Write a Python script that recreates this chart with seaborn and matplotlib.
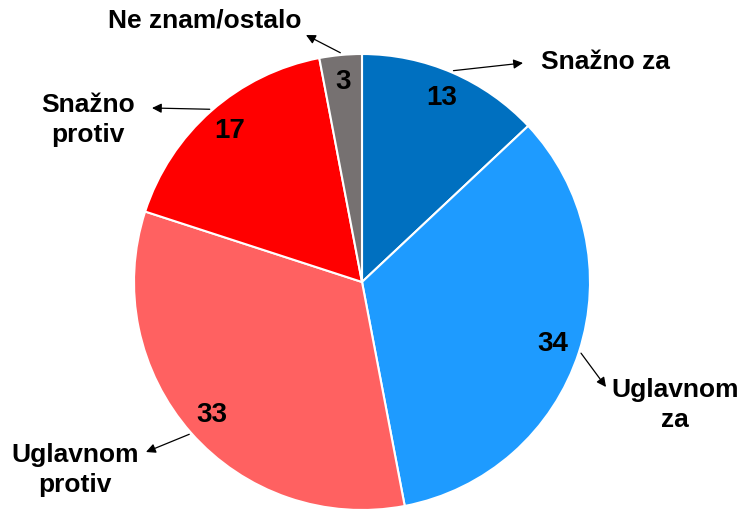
import numpy as np
import matplotlib
matplotlib.use('Agg')
import matplotlib.pyplot as plt
import seaborn as sns

# Podaci
categories = ['Snažno za', 'Uglavnom za', 'Uglavnom protiv', 'Snažno protiv', 'Ne znam/ostalo']
values = [13, 34, 33, 17, 3]
colors = ['#0070C0', '#1E9BFF', '#FF6161', '#FF0000', '#767171']
label_text = ['Snažno za', 'Uglavnom\nza', 'Uglavnom\nprotiv', 'Snažno\nprotiv', 'Ne znam/ostalo']

sns.set_style('white')
plt.rcParams['font.family'] = ['Liberation Sans', 'DejaVu Sans']

W, H = 741, 509
cx, cy, R = 362, 282, 228  # centar i radijus u pikselima

fig = plt.figure(figsize=(W / 100, H / 100), dpi=100)
ax = fig.add_axes([0, 0, 1, 1])

wedges, texts, autotexts = ax.pie(
    values, colors=colors, startangle=90, counterclock=False,
    autopct=lambda p: f'{p:.0f}', pctdistance=0.88,
    wedgeprops=dict(edgecolor='white', linewidth=1.5),
    textprops=dict(fontsize=20, fontweight='bold', color='black'),
)

ax.set_xlim(-cx / R, (W - cx) / R)
ax.set_ylim(-(H - cy) / R, cy / R)
ax.set_aspect('equal')
ax.axis('off')

# pozicije natpisa (pikseli) i vrhova strelica
text_px = [(605, 62), (675, 405), (75, 470), (88, 120), (205, 20)]
tip_px = [(523, 63), (606, 387), (146, 452), (152, 108), (306, 35)]


def to_data(p):
    return ((p[0] - cx) / R, (cy - p[1]) / R)


for w, lab, tp, ap in zip(wedges, label_text, text_px, tip_px):
    mid = np.deg2rad((w.theta1 + w.theta2) / 2)
    start = (1.01 * np.cos(mid), 1.01 * np.sin(mid))
    ax.annotate('', xy=to_data(ap), xytext=start,
                arrowprops=dict(arrowstyle='-|>', color='black', lw=0.9,
                                mutation_scale=14, shrinkA=0, shrinkB=0))
    tx, ty = to_data(tp)
    ax.text(tx, ty, lab, ha='center', va='center', fontsize=19, color='black',
            fontweight='bold', linespacing=1.3, multialignment='center')

fig.savefig('out.png', dpi=100)
